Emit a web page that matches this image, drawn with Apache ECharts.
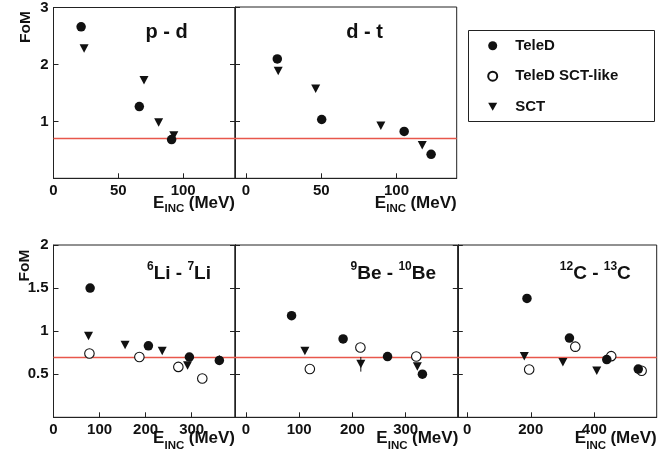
<!DOCTYPE html>
<html>
<head>
<meta charset="utf-8">
<script src="https://cdn.jsdelivr.net/npm/echarts@6/dist/echarts.min.js"></script>
<style>
html,body{margin:0;padding:0;background:#fff;}
#chart{width:670px;height:454px;}
</style>
</head>
<body>
<div id="chart"></div>
<script>
// ---------- DATA ----------
const seriesNames = ['TeleD', 'TeleD SCT-like', 'SCT'];
const panelTitles = ['p - d', 'd - t', '6Li - 7Li', '9Be - 10Be', '12C - 13C'];
const topYTicks = [1, 2, 3];
const bottomYTicks = [0.5, 1, 1.5, 2];
const pdTicks = [0, 50, 100];
const dtTicks = [0, 50, 100];
const liTicks = [0, 100, 200, 300];
const beTicks = [0, 100, 200, 300];
const cTicks = [0, 200, 400];
const refFoM = 0.7;

// p - d
const pdTeleDX = [21.3, 66.2, 91.1];
const pdTeleDY = [2.66, 1.26, 0.68];
const pdSctX = [23.6, 69.8, 81.1, 92.8];
const pdSctY = [2.28, 1.72, 0.98, 0.75];
// d - t
const dtTeleDX = [20.8, 50.3, 105.1, 123.0];
const dtTeleDY = [2.09, 1.03, 0.82, 0.42];
const dtSctX = [21.4, 46.3, 89.6, 117.1];
const dtSctY = [1.88, 1.57, 0.92, 0.58];
// 6Li - 7Li
const liTeleDX = [79.5, 206, 295, 360];
const liTeleDY = [1.50, 0.83, 0.70, 0.66];
const liLikeX = [78, 186.4, 271, 323];
const liLikeY = [0.74, 0.70, 0.585, 0.45];
const liSctX = [76, 155.4, 236, 291];
const liSctY = [0.945, 0.84, 0.77, 0.60];
const liErrX = [360];
const liErrLow = [0.62];
const liErrHigh = [0.72];
// 9Be - 10Be
const beTeleDX = [85.7, 182.5, 266, 331.5];
const beTeleDY = [1.18, 0.91, 0.705, 0.50];
const beLikeX = [120, 215, 320];
const beLikeY = [0.56, 0.81, 0.705];
const beSctX = [110.7, 215.8, 322];
const beSctY = [0.77, 0.62, 0.59];
const beErrX = [215.8];
const beErrLow = [0.53];
const beErrHigh = [0.70];
// 12C - 13C
const cTeleDX = [188, 321.6, 439, 538];
const cTeleDY = [1.38, 0.92, 0.67, 0.56];
const cLikeX = [195, 340, 453, 548.6];
const cLikeY = [0.555, 0.82, 0.71, 0.54];
const cSctX = [179.6, 301, 407.5];
const cSctY = [0.71, 0.64, 0.54];

// ---------- STYLE ----------
const FONT = 'Liberation Sans, Arial, Helvetica, sans-serif';
const INK = '#111';
const RED = '#e8574b';
const TRI = 'path://M0,0L10,0L5,9Z';

function zip(xs, ys) { return xs.map((x, i) => [x, ys[i]]); }

const grids = [
  {left: 53.5, top: 7, width: 181.5, height: 171.3},
  {left: 235, top: 7, width: 221.7, height: 171.3},
  {left: 53.5, top: 245, width: 181.5, height: 172.3},
  {left: 235, top: 245, width: 222.8, height: 172.3},
  {left: 457.8, top: 245, width: 198.9, height: 172.3}
].map(g => Object.assign({show: true, borderColor: '#222', borderWidth: 1, backgroundColor: 'transparent', containLabel: false}, g));

const xRanges = [[0, 140], [-7.3, 140], [0, 394], [-20.6, 398], [-29.5, 596]];
const xTickSets = [pdTicks, dtTicks, liTicks, beTicks, cTicks];

const xAxes = xRanges.map((r, i) => ({
  type: 'value', gridIndex: i, min: r[0], max: r[1],
  axisLine: {show: true, onZero: false, lineStyle: {color: '#222', width: 1}},
  axisTick: {show: true, inside: true, length: 5, customValues: xTickSets[i], lineStyle: {color: '#222'}},
  axisLabel: {show: true, customValues: xTickSets[i], margin: 5, color: INK, fontFamily: FONT, fontWeight: 'bold', fontSize: 15},
  splitLine: {show: false}
}));

const yAxes = [];
for (let i = 0; i < 5; i++) {
  const top = i < 2;
  yAxes.push({
    type: 'value', gridIndex: i, min: 0, max: top ? 3 : 2, interval: top ? 1 : 0.5, position: 'left',
    axisLine: {show: true, onZero: false, lineStyle: {color: '#222', width: 1}},
    axisTick: {show: true, inside: true, length: 5, lineStyle: {color: '#222'}},
    axisLabel: {show: i === 0 || i === 2, margin: 5, color: INK, fontFamily: FONT, fontWeight: 'bold', fontSize: 15,
      customValues: top ? topYTicks : bottomYTicks},
    splitLine: {show: false}
  });
}
// right-side inner ticks for panels that share a border
[0, 2, 3].forEach(i => {
  const top = i < 2;
  yAxes.push({
    type: 'value', gridIndex: i, min: 0, max: top ? 3 : 2, interval: top ? 1 : 0.5, position: 'right',
    axisLine: {show: true, onZero: false, lineStyle: {color: '#222', width: 1}},
    axisTick: {show: true, inside: true, length: 5, lineStyle: {color: '#222'}},
    axisLabel: {show: false}, splitLine: {show: false}
  });
});

function refLine() {
  return {silent: true, symbol: 'none', z: 1, label: {show: false},
    lineStyle: {color: RED, width: 1.4, type: 'solid', opacity: 1}, data: [{yAxis: refFoM}]};
}
function sct(i, xs, ys) {
  return {name: 'SCT', type: 'scatter', xAxisIndex: i, yAxisIndex: i, symbol: TRI, symbolSize: [9, 8.5],
    itemStyle: {color: INK, opacity: 1}, data: zip(xs, ys), z: 3, markLine: refLine()};
}
function like(i, xs, ys) {
  return {name: 'TeleD SCT-like', type: 'scatter', xAxisIndex: i, yAxisIndex: i, symbol: 'circle', symbolSize: 9.5,
    itemStyle: {color: '#fff', borderColor: INK, borderWidth: 1.1, opacity: 1}, data: zip(xs, ys), z: 4};
}
function teled(i, xs, ys) {
  return {name: 'TeleD', type: 'scatter', xAxisIndex: i, yAxisIndex: i, symbol: 'circle', symbolSize: 9.5,
    itemStyle: {color: INK, opacity: 1}, data: zip(xs, ys), z: 5};
}
function errs(i, xs, lo, hi) {
  return {type: 'custom', xAxisIndex: i, yAxisIndex: i, z: 6, silent: true,
    data: xs.map((x, k) => [x, lo[k], hi[k]]),
    renderItem: function (params, api) {
      const a = api.coord([api.value(0), api.value(1)]);
      const b = api.coord([api.value(0), api.value(2)]);
      return {type: 'line', shape: {x1: a[0], y1: a[1], x2: b[0], y2: b[1]}, style: {stroke: INK, lineWidth: 1}};
    }};
}

const series = [
  sct(0, pdSctX, pdSctY), teled(0, pdTeleDX, pdTeleDY),
  sct(1, dtSctX, dtSctY), teled(1, dtTeleDX, dtTeleDY),
  sct(2, liSctX, liSctY), like(2, liLikeX, liLikeY), teled(2, liTeleDX, liTeleDY), errs(2, liErrX, liErrLow, liErrHigh),
  sct(3, beSctX, beSctY), like(3, beLikeX, beLikeY), teled(3, beTeleDX, beTeleDY), errs(3, beErrX, beErrLow, beErrHigh),
  sct(4, cSctX, cSctY), like(4, cLikeX, cLikeY), teled(4, cTeleDX, cTeleDY)
];

// ---------- TEXT GRAPHICS ----------
function txt(x, y, text, size, align, extra) {
  return Object.assign({type: 'text', x: x, y: y, silent: true, style: {
    text: text, fill: INK, font: 'bold ' + size + 'px ' + FONT,
    align: align, textAlign: align, verticalAlign: 'middle', textVerticalAlign: 'middle'}}, extra || {});
}
function axisName(R, yE, yS) {
  return [
    txt(R - 82, yE, 'E', 17, 'left'),
    txt(R - 70.5, yS, 'INC', 11.5, 'left'),
    txt(R, yE, '(MeV)', 17, 'right')
  ];
}
function richTitle(cx, cy, parts) {
  let s = '';
  parts.forEach(p => { s += '{s|' + p[0] + '}{m|' + p[1] + '}'; });
  return {type: 'text', x: cx, y: cy, silent: true, style: {
    text: s, align: 'center', textAlign: 'center', verticalAlign: 'middle', textVerticalAlign: 'middle',
    rich: {
      s: {fontFamily: FONT, fontWeight: 'bold', fontSize: 12, lineHeight: 9, verticalAlign: 'top', fill: INK, color: INK},
      m: {fontFamily: FONT, fontWeight: 'bold', fontSize: 19, lineHeight: 22, verticalAlign: 'bottom', fill: INK, color: INK}
    }}};
}

const graphic = [
  txt(25.5, 27, 'FoM', 15.5, 'center', {rotation: Math.PI / 2}),
  txt(24.5, 265.5, 'FoM', 15.5, 'center', {rotation: Math.PI / 2}),
  txt(166.7, 32, panelTitles[0], 20, 'center'),
  txt(364.5, 32, panelTitles[1], 20, 'center'),
  richTitle(179, 272, [['6', 'Li - '], ['7', 'Li']]),
  richTitle(393.3, 272, [['9', 'Be - '], ['10', 'Be']]),
  richTitle(595.3, 272, [['12', 'C - '], ['13', 'C']]),
  {type: 'rect', silent: true, shape: {x: 468.5, y: 30.5, width: 186, height: 91}, style: {fill: 'none', stroke: '#222', lineWidth: 1}}
]
  .concat(axisName(235, 203, 209))
  .concat(axisName(456.7, 203, 209))
  .concat(axisName(235, 438.5, 446))
  .concat(axisName(458.3, 438.5, 446))
  .concat(axisName(656.7, 438.5, 446));

const chart = echarts.init(document.getElementById('chart'), null, {renderer: 'canvas'});
chart.setOption({
  animation: false,
  backgroundColor: '#fff',
  grid: grids,
  xAxis: xAxes,
  yAxis: yAxes,
  legend: {
    data: seriesNames, orient: 'vertical', left: 487.2, top: 37.7, padding: 0,
    itemWidth: 9, itemHeight: 9, itemGap: 14.5, selectedMode: false,
    textStyle: {color: INK, fontFamily: FONT, fontWeight: 'bold', fontSize: 15, lineHeight: 16, padding: [0, 0, 0, 13]}
  },
  series: series,
  graphic: graphic
});
</script>
</body>
</html>
